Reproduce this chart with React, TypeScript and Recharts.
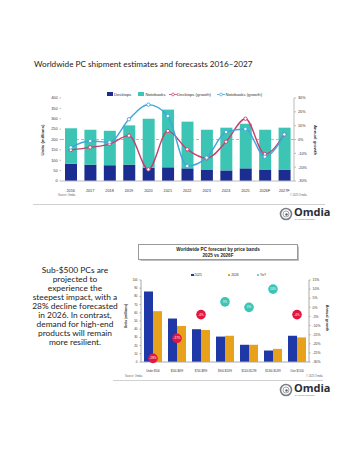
import React from "react"
import {
  Bar,
  ComposedChart,
  Line,
  ReferenceLine,
  XAxis,
  YAxis,
} from "recharts"

// chart 1: shipments 2016-2027
const years = ["2016", "2017", "2018", "2019", "2020", "2021", "2022", "2023", "2024", "2025", "2026F", "2027F"]
const desktops = [83, 79, 76, 79, 64, 66, 61, 53, 51, 61, 53, 55]
const notebooks = [171, 168, 166, 189, 236, 278, 225, 194, 206, 215, 194, 202]
const desktopGrowth = [-7.6, -5.7, -3.3, 2.8, -21.6, 6.2, -7.1, -13.6, -1.6, 15, -10.5, 3.7]
const notebookGrowth = [-5.7, -1.1, -2, 14.6, 25.2, 17, -19.2, -13.1, 5.4, 7.6, -12.4, 3.7]
const unitTicks = [0, 50, 100, 150, 200, 250, 300, 350, 400]
const growthTicks = [-30, -20, -10, 0, 10, 20, 30]

// chart 2: price bands
const bands = ["Under $500", "$500-$699", "$700-$899", "$900-$1099", "$1100-$1299", "$1300-$1499", "Over $1500"]
const units2025 = [86, 53, 40, 31, 21, 14, 32]
const units2026 = [62, 44, 39, 32, 21, 16, 30]
const yoy = [-28, -17, -4, 3, 0, 10, -4]
const bandTicks = [0, 10, 20, 30, 40, 50, 60, 70, 80, 90, 100]
const yoyTicks = [-30, -25, -20, -15, -10, -5, 0, 5, 10, 15]

const paragraph = [
  "Sub-$500 PCs are",
  "projected to",
  "experience the",
  "steepest impact, with a",
  "28% decline forecasted",
  "in 2026. In contrast,",
  "demand for high-end",
  "products will remain",
  "more resilient.",
]

const NAVY = "#1c2d91"
const TEAL = "#3cc4b4"
const PINK = "#c73f6c"
const SKY = "#3fa6dc"
const BLUE25 = "#1e38a8"
const GOLD = "#e8a11b"
const RED = "#e2163f"

const shipData = years.map((y, i) => ({
  year: y,
  desktops: desktops[i],
  notebooks: notebooks[i],
  dg: desktopGrowth[i],
  ng: notebookGrowth[i],
}))

const bandData = bands.map((b, i) => ({
  band: b,
  u25: units2025[i],
  u26: units2026[i],
  yoy: yoy[i],
}))

const tickFont = { fontFamily: "Liberation Sans", fill: "#333" }

function YoyDot(props: any) {
  const { cx, cy, value, index } = props
  if (cx == null || cy == null) return null
  return (
    <g key={"yoy" + index}>
      <circle cx={cx} cy={cy} r={4.8} fill={value < 0 ? RED : TEAL} />
      <text
        x={cx}
        y={cy + 1}
        textAnchor="middle"
        fontSize={3}
        fill="#fff"
        fontFamily="Liberation Sans"
      >
        {value}%
      </text>
    </g>
  )
}

function Logo({ top }: { top: number }) {
  return (
    <div style={{ position: "absolute", left: 279, top, width: 50, height: 16 }}>
      <svg width={14} height={14} style={{ position: "absolute", left: 0, top: 0 }}>
        <circle cx={7} cy={7} r={5.5} fill="none" stroke="#7b7f86" strokeWidth={1.6} />
        <circle cx={7} cy={7} r={3} fill="none" stroke="#a2a6ac" strokeWidth={1} />
        <circle cx={7.5} cy={7.5} r={1.2} fill="#5d6168" />
      </svg>
      <div
        style={{
          position: "absolute",
          left: 15,
          top: -1,
          fontFamily: "Open Sans",
          fontWeight: 700,
          fontSize: 11,
          color: "#2a2d33",
          lineHeight: "12px",
        }}
      >
        Omdia
      </div>
      <div
        style={{
          position: "absolute",
          left: 16,
          top: 11,
          fontFamily: "Liberation Sans",
          fontSize: 2,
          color: "#666",
          whiteSpace: "nowrap",
        }}
      >
        by Informa TechTarget
      </div>
    </div>
  )
}

function abs(left: number, top: number, extra: React.CSSProperties = {}): React.CSSProperties {
  return { position: "absolute", left, top, whiteSpace: "nowrap", ...extra }
}

export default function App() {
  return (
    <div
      style={{
        position: "absolute",
        left: 0,
        top: 0,
        width: 359,
        height: 454,
        background: "#fff",
        overflow: "hidden",
        fontFamily: "Liberation Sans",
      }}
    >
      {/* chart 1 title */}
      <div style={abs(34, 59, { fontFamily: "Lato", fontSize: 8.2, color: "#222", lineHeight: "10px" })}>
        Worldwide PC shipment estimates and forecasts 2016–2027
      </div>

      {/* chart 1 legend */}
      <div style={abs(107, 91.5, { fontSize: 4.2, color: "#333", lineHeight: "5px", display: "flex", alignItems: "center" })}>
        <span style={{ width: 6, height: 4, background: NAVY, marginRight: 1 }} />
        <span style={{ marginRight: 7 }}>Desktops</span>
        <span style={{ width: 6, height: 4, background: TEAL, marginRight: 1 }} />
        <span style={{ marginRight: 3 }}>Notebooks</span>
        <svg width={8} height={5} style={{ marginRight: 0.5 }}>
          <line x1={0} y1={2.5} x2={8} y2={2.5} stroke={PINK} strokeWidth={0.8} />
          <circle cx={4} cy={2.5} r={1.4} fill="#fff" stroke={PINK} strokeWidth={0.7} />
        </svg>
        <span style={{ marginRight: 6 }}>Desktops (growth)</span>
        <svg width={8} height={5} style={{ marginRight: 0.5 }}>
          <line x1={0} y1={2.5} x2={8} y2={2.5} stroke={SKY} strokeWidth={0.8} />
          <circle cx={4} cy={2.5} r={1.4} fill="#fff" stroke={SKY} strokeWidth={0.7} />
        </svg>
        <span>Notebooks (growth)</span>
      </div>

      {/* chart 1 axis titles */}
      <div style={abs(42, 140, { fontSize: 4.3, fontWeight: 700, color: "#333", transform: "translate(-50%,-50%) rotate(-90deg)" })}>
        Units (millions)
      </div>
      <div style={abs(315, 140, { fontSize: 4.3, fontWeight: 700, color: "#333", transform: "translate(-50%,-50%) rotate(90deg)" })}>
        Annual growth
      </div>

      <div style={{ position: "absolute", left: 0, top: 80 }}>
        <ComposedChart
          width={359}
          height={125}
          data={shipData}
          margin={{ top: 18, right: 42, left: 31, bottom: 12 }}
        >
          <XAxis
            dataKey="year"
            tick={{ ...tickFont, fontSize: 3.8 }}
            tickLine={false}
            axisLine={{ stroke: "#bbb" }}
            height={12}
            interval={0}
          />
          <YAxis
            yAxisId="left"
            domain={[0, 400]}
            ticks={unitTicks}
            tick={{ ...tickFont, fontSize: 3.8 }}
            tickSize={1.5}
            tickLine={{ stroke: "#bbb" }}
            axisLine={false}
            width={30}
            interval={0}
          />
          <YAxis
            yAxisId="right"
            orientation="right"
            domain={[-30, 30]}
            ticks={growthTicks}
            tickFormatter={(v) => `${v}%`}
            tick={{ ...tickFont, fontSize: 3.8 }}
            tickSize={2}
            tickLine={{ stroke: "#bbb" }}
            axisLine={{ stroke: "#bbb" }}
            width={23}
            interval={0}
          />
          <ReferenceLine yAxisId="left" y={200} stroke="#999" strokeDasharray="3 2" strokeWidth={0.7} />
          <Bar yAxisId="left" dataKey="desktops" stackId="a" fill={NAVY} barSize={12} isAnimationActive={false} />
          <Bar yAxisId="left" dataKey="notebooks" stackId="a" fill={TEAL} barSize={12} isAnimationActive={false} />
          <Line
            yAxisId="right"
            type="monotone"
            dataKey="dg"
            stroke={PINK}
            strokeWidth={1.4}
            dot={{ r: 1.7, fill: "#fff", stroke: PINK, strokeWidth: 0.9 }}
            activeDot={false}
            isAnimationActive={false}
          />
          <Line
            yAxisId="right"
            type="monotone"
            dataKey="ng"
            stroke={SKY}
            strokeWidth={1.4}
            dot={{ r: 1.7, fill: "#fff", stroke: SKY, strokeWidth: 0.9 }}
            activeDot={false}
            isAnimationActive={false}
          />
        </ComposedChart>
      </div>

      <div style={abs(58, 193.5, { fontSize: 2.6, color: "#666" })}>Source: Omdia</div>
      <div style={abs(290, 193.5, { fontSize: 2.6, color: "#666" })}>© 2025 Omdia</div>
      <div style={{ position: "absolute", left: 33, top: 204, width: 292, height: 1, background: "#d0d0d0" }} />
      <Logo top={207} />

      {/* chart 2 title box */}
      <div
        style={{
          position: "absolute",
          left: 138,
          top: 244,
          width: 160,
          height: 16,
          border: "0.8px solid #9a9a9a",
          boxShadow: "0.5px 0.5px 1px rgba(0,0,0,0.25)",
          textAlign: "center",
          fontSize: 4.6,
          fontWeight: 700,
          color: "#222",
          lineHeight: "6px",
          paddingTop: 2,
          boxSizing: "border-box",
        }}
      >
        <div>Worldwide PC forecast by price bands</div>
        <div>2025 vs 2026F</div>
      </div>

      {/* paragraph */}
      <div
        style={{
          position: "absolute",
          left: 20,
          top: 265.5,
          width: 110,
          textAlign: "center",
          fontFamily: "Lato",
          fontSize: 8.4,
          lineHeight: "9.1px",
          color: "#222",
        }}
      >
        {paragraph.map((l) => (
          <div key={l}>{l}</div>
        ))}
      </div>

      {/* chart 2 legend */}
      <div style={abs(191, 273, { fontSize: 3.4, color: "#333", lineHeight: "4px", display: "flex", alignItems: "center" })}>
        <span style={{ width: 2.5, height: 2.5, background: BLUE25, marginRight: 0.8 }} />
        <span style={{ marginRight: 26 }}>2025</span>
        <span style={{ width: 2.5, height: 2.5, background: GOLD, marginRight: 0.8 }} />
        <span style={{ marginRight: 18 }}>2026</span>
        <span style={{ width: 2.6, height: 2.6, borderRadius: "50%", background: TEAL, marginRight: 0.8 }} />
        <span>YoY</span>
      </div>

      <div style={abs(126, 316, { fontSize: 3.4, fontWeight: 700, color: "#333", transform: "translate(-50%,-50%) rotate(-90deg)" })}>
        Units (millions)
      </div>
      <div style={abs(327, 318, { fontSize: 3.8, fontWeight: 700, color: "#333", transform: "translate(-50%,-50%) rotate(90deg)" })}>
        Annual growth
      </div>

      <div style={{ position: "absolute", left: 0, top: 265 }}>
        <ComposedChart
          width={359}
          height={110}
          data={bandData}
          margin={{ top: 15, right: 30, left: 116, bottom: 3 }}
          barGap={0}
        >
          <XAxis
            dataKey="band"
            tick={{ ...tickFont, fontSize: 2.6 }}
            tickLine={false}
            axisLine={{ stroke: "#aaa" }}
            height={10}
            interval={0}
          />
          <YAxis
            yAxisId="left"
            domain={[0, 100]}
            ticks={bandTicks}
            tick={{ ...tickFont, fontSize: 3 }}
            tickSize={1.5}
            tickLine={{ stroke: "#aaa" }}
            axisLine={{ stroke: "#aaa" }}
            width={25}
            interval={0}
          />
          <YAxis
            yAxisId="right"
            orientation="right"
            domain={[-30, 15]}
            ticks={yoyTicks}
            tickFormatter={(v) => `${v}%`}
            tick={{ ...tickFont, fontSize: 3.4 }}
            tickSize={1.5}
            tickLine={{ stroke: "#aaa" }}
            axisLine={{ stroke: "#aaa" }}
            width={20}
            interval={0}
          />
          <Bar yAxisId="left" dataKey="u25" fill={BLUE25} barSize={9} isAnimationActive={false} />
          <Bar yAxisId="left" dataKey="u26" fill={GOLD} barSize={9} isAnimationActive={false} />
          <Line
            yAxisId="right"
            dataKey="yoy"
            stroke="none"
            dot={YoyDot}
            activeDot={false}
            isAnimationActive={false}
          />
        </ComposedChart>
      </div>

      <div style={abs(125, 374.5, { fontSize: 2.6, color: "#666" })}>Source: Omdia</div>
      <div style={abs(306, 374.5, { fontSize: 2.6, color: "#666" })}>© 2025 Omdia</div>
      <div style={{ position: "absolute", left: 113, top: 380, width: 210, height: 1, background: "#d0d0d0" }} />
      <Logo top={383} />
    </div>
  )
}
